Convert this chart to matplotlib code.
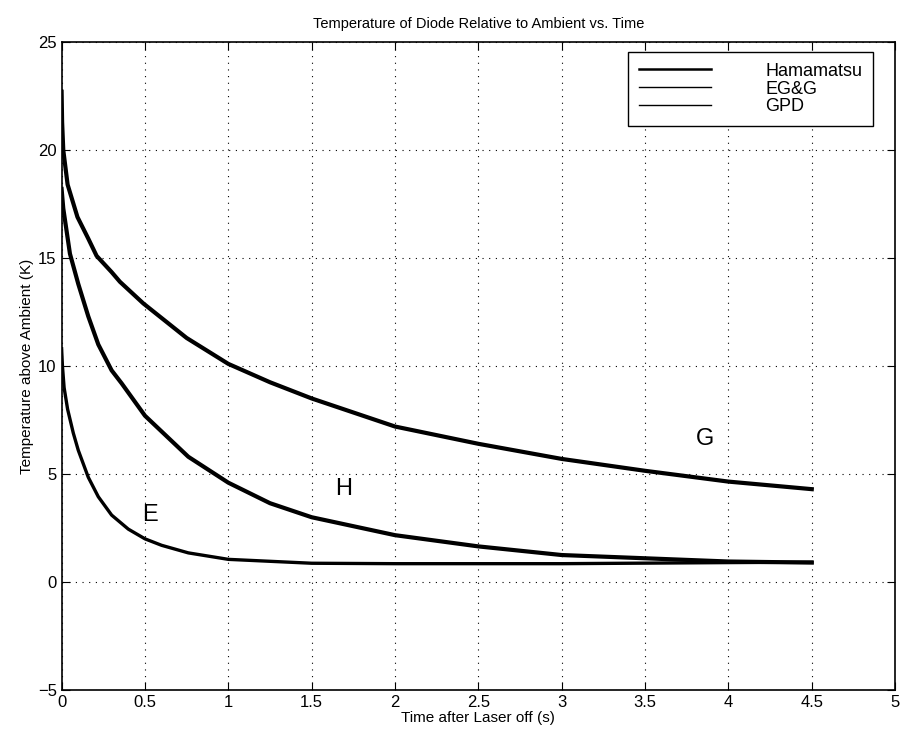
import matplotlib
matplotlib.use("Agg")
import matplotlib.pyplot as plt
from matplotlib.ticker import FormatStrFormatter, MultipleLocator

plt.rcParams["font.family"] = ["Liberation Sans", "DejaVu Sans"]

# values (time in s, temperature above ambient in K)
t_ham = [0.0, 0.01, 0.05, 0.1, 0.16, 0.22, 0.3, 0.36, 0.5, 0.76, 1.0, 1.25, 1.5, 2.0, 2.5, 3.0, 3.5, 4.0, 4.5]
temp_ham = [18.2, 17.3, 15.2, 13.8, 12.3, 11.0, 9.8, 9.2, 7.7, 5.8, 4.6, 3.65, 3.0, 2.17, 1.65, 1.25, 1.1, 0.95, 0.9]

t_egg = [0.0, 0.005, 0.015, 0.036, 0.07, 0.1, 0.16, 0.22, 0.3, 0.4, 0.5, 0.6, 0.76, 1.0, 1.5, 2.0, 3.0, 4.0, 4.5]
temp_egg = [10.8, 10.0, 9.0, 8.0, 6.9, 6.1, 4.85, 3.95, 3.1, 2.45, 2.0, 1.7, 1.35, 1.05, 0.87, 0.85, 0.85, 0.9, 0.92]

t_gpd = [0.0, 0.003, 0.01, 0.036, 0.095, 0.16, 0.21, 0.3, 0.35, 0.49, 0.75, 1.0, 1.25, 1.5, 2.0, 2.5, 3.0, 3.5, 4.0, 4.5]
temp_gpd = [22.7, 21.3, 20.0, 18.4, 16.9, 15.9, 15.1, 14.35, 13.9, 12.9, 11.3, 10.1, 9.25, 8.5, 7.2, 6.4, 5.7, 5.15, 4.65, 4.3]

curve_tags = [("G", 3.86, 6.6), ("H", 1.69, 4.3), ("E", 0.53, 3.1)]

fig = plt.figure(figsize=(9.06, 7.38), dpi=100)
ax = fig.add_axes([0.068, 0.065, 0.92, 0.878])

ax.plot(t_ham, temp_ham, color="black", lw=3.0, label="Hamamatsu")
ax.plot(t_egg, temp_egg, color="black", lw=2.4, label="EG&G")
ax.plot(t_gpd, temp_gpd, color="black", lw=3.0, label="GPD")

for tag, x, y in curve_tags:
    ax.text(x, y, tag, fontsize=17, ha="center", va="center")

ax.set_xlim(0, 5)
ax.set_ylim(-5, 25)
ax.xaxis.set_major_locator(MultipleLocator(0.5))
ax.yaxis.set_major_locator(MultipleLocator(5))
ax.xaxis.set_major_formatter(FormatStrFormatter("%g"))
ax.tick_params(direction="in", top=True, right=True, length=6, labelsize=12)
ax.grid(True, color="black", linestyle=(0, (1, 5)), linewidth=0.8)
for s in ax.spines.values():
    s.set_linewidth(1.2)

ax.set_title("Temperature of Diode Relative to Ambient vs. Time", fontsize=10.5, pad=10)
ax.set_xlabel("Time after Laser off (s)", fontsize=11, labelpad=1)
ax.set_ylabel("Temperature above Ambient (K)", fontsize=11, labelpad=3)

leg = ax.legend(loc="upper right", bbox_to_anchor=(0.974, 0.985), borderaxespad=0,
                fancybox=False, edgecolor="black", framealpha=1, fontsize=13,
                handlelength=4, handletextpad=3, labelspacing=0.05, borderpad=0.6)
leg.get_frame().set_linewidth(1.0)
leg.legend_handles[0].set_linewidth(1.8)
leg.legend_handles[1].set_linewidth(1.0)
leg.legend_handles[2].set_linewidth(1.0)

fig.savefig("out.png", dpi=100)
